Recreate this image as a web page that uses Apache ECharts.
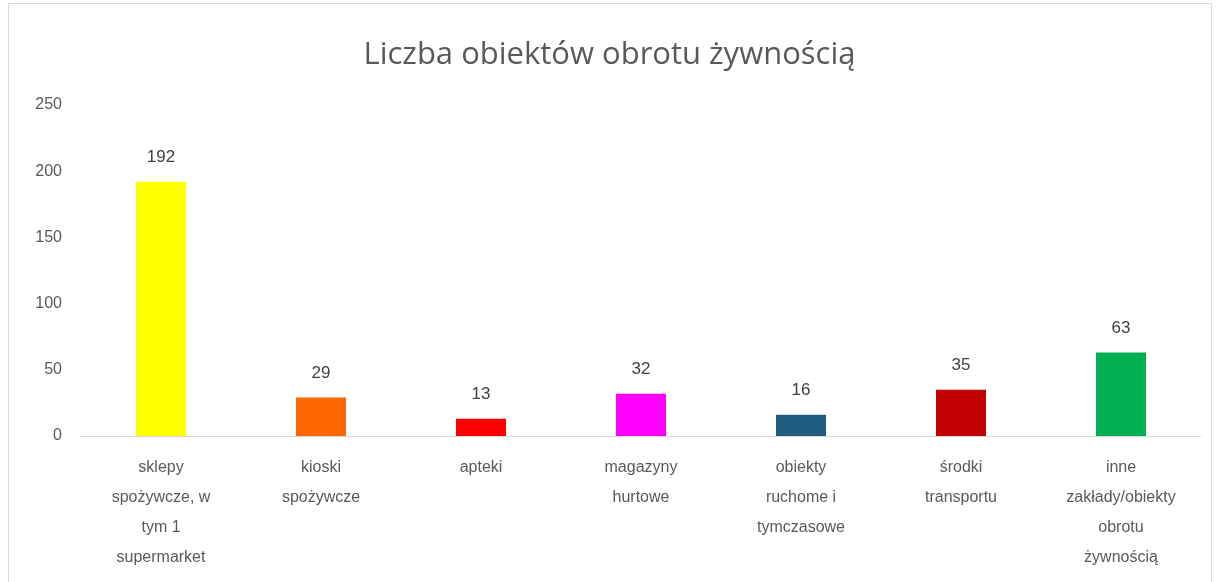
<!DOCTYPE html>
<html><head><meta charset="utf-8">
<script src="https://cdn.jsdelivr.net/npm/echarts@6/dist/echarts.min.js"></script>
<style>html,body{margin:0;padding:0;background:#fff}#c{width:1219px;height:582px}</style>
</head><body><div id="c"></div>
<script>
const categories = [
  'sklepy\nspożywcze, w\ntym 1\nsupermarket',
  'kioski\nspożywcze',
  'apteki',
  'magazyny\nhurtowe',
  'obiekty\nruchome i\ntymczasowe',
  'środki\ntransportu',
  'inne\nzakłady/obiekty\nobrotu\nżywnością'
];
const values = [192, 29, 13, 32, 16, 35, 63];
const barColors = ['#FFFF00', '#FF6600', '#FF0000', '#FF00FF', '#1F5C80', '#C00000', '#00B050'];
const title = 'Liczba obiektów obrotu żywnością';

const chart = echarts.init(document.getElementById('c'), null, {renderer: 'canvas'});
chart.setOption({
  animation: false,
  backgroundColor: '#fff',
  graphic: [{
    type: 'rect', shape: {x: 8.5, y: 3.5, width: 1203, height: 600},
    style: {fill: 'none', stroke: '#d9d9d9', lineWidth: 1}, silent: true
  }],
  title: {
    text: title, left: 'center', top: 35,
    textStyle: {fontFamily: 'Open Sans', fontSize: 31, fontWeight: 'normal', color: '#595959'}
  },
  grid: {left: 81, right: 18, top: 105, bottom: 146, containLabel: false},
  xAxis: {
    type: 'category', data: categories,
    axisLine: {lineStyle: {color: '#d9d9d9', width: 1}},
    axisTick: {show: false},
    axisLabel: {
      interval: 0, color: '#595959', fontFamily: 'Liberation Sans', fontSize: 16,
      lineHeight: 30, margin: 17
    }
  },
  yAxis: {
    type: 'value', min: 0, max: 250, interval: 50,
    axisLine: {show: false}, axisTick: {show: false},
    splitLine: {show: false},
    axisLabel: {color: '#595959', fontFamily: 'Liberation Sans', fontSize: 16, margin: 19}
  },
  series: [{
    type: 'bar', barWidth: 50,
    data: values.map((v, i) => ({value: v, itemStyle: {color: barColors[i]}})),
    label: {
      show: true, position: 'top', distance: 16,
      color: '#404040', fontFamily: 'Liberation Sans', fontSize: 17
    }
  }]
});
</script></body></html>
